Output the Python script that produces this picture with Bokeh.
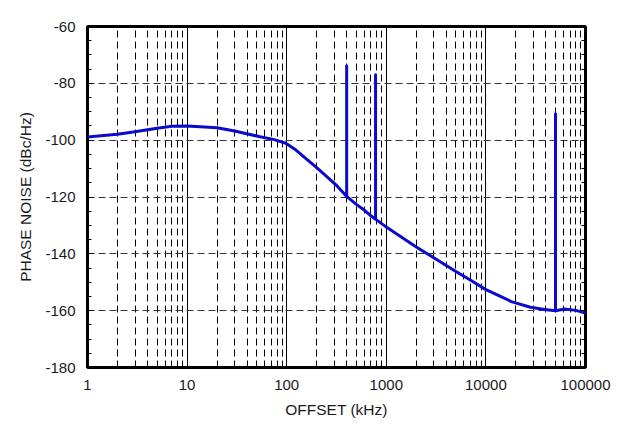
from bokeh.plotting import figure
from bokeh.models import FixedTicker, LinearAxis, Range1d, CustomJSTickFormatter
from bokeh.embed import file_html
from bokeh.resources import INLINE

# ---- data ----
offset_khz = [1, 2, 3, 5, 7, 10, 20, 30, 54, 75, 98, 124, 155, 196, 248, 314,
              400, 400, 400, 500, 600, 700, 780, 780, 780, 1000, 2000, 3200, 5000,
              7100, 10000, 14000, 18000, 28000, 39000,
              50000, 50000, 50000, 62000, 80000, 100000]
phase_noise = [-98.9, -97.9, -97.0, -95.8, -95.1, -95.0, -95.6, -96.8, -98.8, -99.8,
               -101.1, -103.5, -106.4, -109.4, -112.6, -115.8,
               -119.8, -73.8, -119.8, -122.6, -124.6, -126.6, -127.8, -77.0, -127.8,
               -130.6, -137.6, -142.0, -146.2, -149.4, -152.6, -155.0, -156.8,
               -158.8, -159.6, -160.0, -90.7, -160.0, -159.4, -159.9, -160.8]

x_major = [1, 10, 100, 1000, 10000, 100000]
x_labels = ["1", "10", "100", "1000", "10000", "100000"]
x_minor = [k * d for d in [1, 10, 100, 1000, 10000] for k in range(2, 10)]
y_major = [-180, -160, -140, -120, -100, -80, -60]
y_labels = ["-180", "-160", "-140", "-120", "-100", "-80", "-60"]
y_minor = list(range(-180, -55, 5))

FONT = "Liberation Sans"

p = figure(width=625, height=423, x_axis_type="log",
           x_range=Range1d(1, 100000), y_range=Range1d(-180, -60),
           output_backend="svg", toolbar_location=None,
           min_border_left=87, min_border_top=26, min_border_right=40,
           min_border_bottom=56)
p.background_fill_color = "white"
p.border_fill_color = "white"
p.outline_line_color = "black"
p.outline_line_width = 3

p.line(offset_khz, phase_noise, line_color="#0A0ACF", line_width=3,
       line_join="round")

# x axis
p.xaxis.ticker = FixedTicker(ticks=x_major, minor_ticks=x_minor)
p.xaxis.major_label_overrides = {v: s for v, s in zip(x_major, x_labels)}
p.xaxis.axis_label = "OFFSET (kHz)"
# y axis
p.yaxis.ticker = FixedTicker(ticks=y_major, minor_ticks=y_minor)
p.yaxis.major_label_overrides = {v: s for v, s in zip(y_major, y_labels)}
p.yaxis.axis_label = "PHASE NOISE (dBc/Hz)"

for ax in [p.xaxis[0], p.yaxis[0]]:
    ax.axis_line_color = None
    ax.major_tick_in = 5
    ax.major_tick_out = 0
    ax.minor_tick_in = 4
    ax.minor_tick_out = 0
    ax.major_tick_line_color = "black"
    ax.minor_tick_line_color = "black"
    ax.major_label_text_font = FONT
    ax.major_label_text_font_size = "15px"
    ax.major_label_text_color = "#1a1a1a"
    ax.major_label_standoff = 12
    ax.axis_label_text_font = FONT
    ax.axis_label_text_font_size = "15.5px"
    ax.axis_label_text_font_style = "normal"
    ax.axis_label_text_color = "#1a1a1a"
    ax.axis_label_standoff = 8

ra = LinearAxis(ticker=FixedTicker(ticks=y_major, minor_ticks=y_minor),
                formatter=CustomJSTickFormatter(code="return ''"))
ra.axis_line_color = None
ra.major_tick_in = 5
ra.major_tick_out = 0
ra.minor_tick_in = 4
ra.minor_tick_out = 0
ra.major_label_standoff = 0
p.add_layout(ra, "right")

# grids
p.xgrid.grid_line_color = "black"
p.xgrid.grid_line_width = 1
p.xgrid.grid_line_alpha = 1
p.xgrid.minor_grid_line_color = "black"
p.xgrid.minor_grid_line_width = 1
p.xgrid.minor_grid_line_dash = "7 4"
p.ygrid.grid_line_color = "#333333"
p.ygrid.grid_line_width = 1
p.ygrid.grid_line_dash = "7 4"
p.ygrid.minor_grid_line_color = None

open("out.html", "w").write(file_html(p, INLINE))
